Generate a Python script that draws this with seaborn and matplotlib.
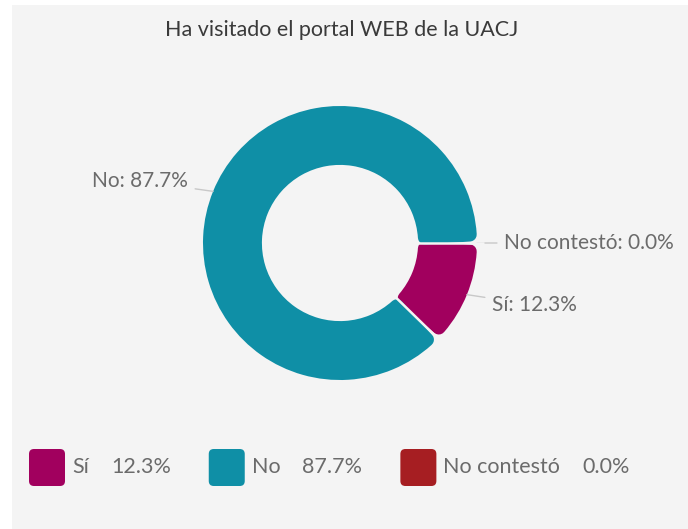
import matplotlib
matplotlib.use('Agg')
import matplotlib.pyplot as plt
from matplotlib.patches import FancyBboxPatch, Rectangle
import seaborn as sns
import numpy as np

# data
categories = ['Sí', 'No', 'No contestó']
percentages = [12.3, 87.7, 0.0]
colors = ['#a1005e', '#0f8fa6', '#a61e22']
title = 'Ha visitado el portal WEB de la UACJ'

sns.set_theme(style='white')
plt.rcParams['font.family'] = ['Lato', 'DejaVu Sans']

W, H, DPI = 688, 529, 100
BG = '#f4f4f4'
fig = plt.figure(figsize=(W / DPI, H / DPI), dpi=DPI, facecolor='white')
# light gray panel behind the chart
fig.add_artist(Rectangle((12 / W, 0), 1, (H - 5) / H, transform=fig.transFigure,
                         facecolor=BG, edgecolor='none', zorder=0))

R_PX = 137          # outer radius in pixels
cx, cy = 340, 243   # donut centre (pixels from top-left)
half = 1.5 * R_PX
ax = fig.add_axes([(cx - half) / W, (H - cy - half) / H, 2 * half / W, 2 * half / H])
ax.axis('off')

ring = 0.43
palette = sns.color_palette(colors)
wedges, _ = ax.pie(percentages, colors=palette, startangle=0, counterclock=False,
                   radius=1.0, wedgeprops=dict(width=ring))
ax.set_xlim(-1.5, 1.5)
ax.set_ylim(-1.5, 1.5)

label_color = '#6b6b6b'
corner = 7   # px, rounded corners
c = corner / R_PX
boundaries = []
for w, cat, v in zip(wedges, categories, percentages):
    ang = np.radians((w.theta1 + w.theta2) / 2)
    x, y = np.cos(ang), np.sin(ang)
    ax.annotate(f'{cat}: {v:.1f}%', xy=(x, y), xytext=(1.2 * x, 1.2 * y),
                ha='left' if x > 0 else 'right', va='center', fontsize=15,
                color=label_color,
                arrowprops=dict(arrowstyle='-', color='#c8c8c8', lw=1, shrinkA=3, shrinkB=0))
    if v == 0:
        w.set_visible(False)
        continue
    boundaries += [w.theta1, w.theta2]
    w.set_radius(1 - c)
    w.set_width(ring - 2 * c)
    dth = np.degrees(c / (1 - ring / 2))
    w.set_theta1(w.theta1 + dth)
    w.set_theta2(w.theta2 - dth)
    w.set_edgecolor(w.get_facecolor())
    w.set_linewidth(2 * corner * 72 / DPI)
    w.set_joinstyle('round')

# thin separators between slices
for b in set(np.round(np.mod(boundaries, 360), 4)):
    a = np.radians(b)
    ax.plot([(1 - ring - 0.05) * np.cos(a), 1.05 * np.cos(a)],
            [(1 - ring - 0.05) * np.sin(a), 1.05 * np.sin(a)],
            color=BG, lw=1.8, solid_capstyle='butt', zorder=5)

fig.text(342 / W, (H - 30) / H, title, ha='center', va='center',
         fontsize=15.5, color='#3a3a3a')

# legend along the bottom
renderer = fig.canvas.get_renderer()
x = 29
ly = 467
for cat, v, col in zip(categories, percentages, colors):
    box = FancyBboxPatch((x / DPI, (H - 486) / DPI), 36 / DPI, 37 / DPI,
                         boxstyle='round,pad=0,rounding_size=0.05',
                         transform=fig.dpi_scale_trans, facecolor=col, edgecolor='none')
    fig.add_artist(box)
    t1 = fig.text((x + 43) / W, (H - ly) / H, cat, fontsize=15.5, color=label_color, va='center')
    bb = t1.get_window_extent(renderer)
    t2 = fig.text((bb.x1 + 22) / W, (H - ly) / H, f'{v:.1f}%', fontsize=15.5,
                  color=label_color, va='center')
    bb2 = t2.get_window_extent(renderer)
    x = bb2.x1 + 38

fig.savefig('out.png', dpi=DPI)
